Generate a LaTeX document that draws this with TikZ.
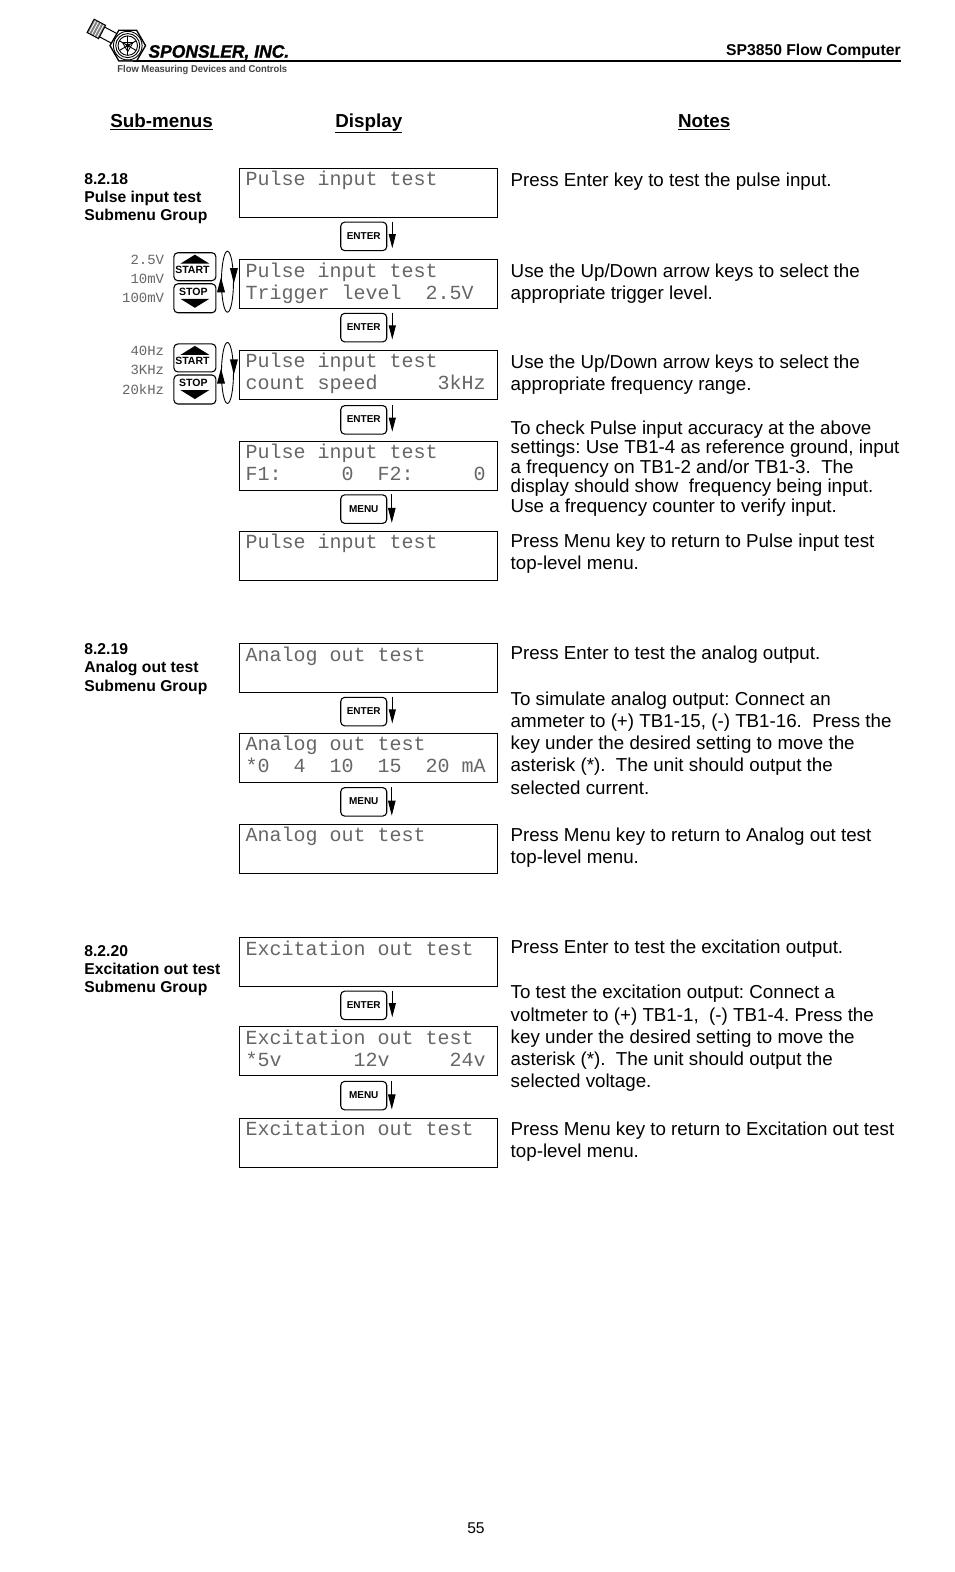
\documentclass[tikz,border=0pt]{standalone}
\usepackage{fontspec}
\setmainfont{Liberation Sans}
\newfontfamily\lcdfont{Liberation Mono}
\newfontfamily\brandfont{Liberation Sans}[FakeBold=1.2,FakeStretch=0.97]
\newfontfamily\tagfont{Liberation Sans}[FakeStretch=0.94]
\usetikzlibrary{arrows.meta,shapes.geometric,calc}
\definecolor{lcdgray}{HTML}{666666}
\definecolor{lgray}{HTML}{444444}
\tikzset{
 x=1.002pt,y=-1.0026pt,
 lcdbox/.style={draw=black,line width=0.9pt,minimum width=258pt,minimum height=49pt,inner sep=0pt,anchor=north west},
 lcdtext/.style={anchor=base west,inner sep=0pt,text=lcdgray,font=\lcdfont\fontsize{20}{20}\selectfont},
 sidetext/.style={anchor=base east,inner sep=0pt,text=lcdgray,font=\lcdfont\fontsize{14}{14}\selectfont},
 keybox/.style={draw=black,line width=1.1pt,rounded corners=4pt,minimum width=46pt,minimum height=28.5pt,inner sep=0pt,font=\bfseries\fontsize{10}{10}\selectfont,anchor=north west},
 updown/.style={draw=black,line width=1.1pt,rounded corners=4pt,minimum width=42pt,minimum height=28pt,inner sep=0pt,anchor=north west},
 keylabel/.style={inner sep=0pt,font=\bfseries\fontsize{10.5}{10.5}\selectfont},
 notetext/.style={anchor=north west,inner sep=0pt,align=left,font=\frenchspacing\fontsize{18.75}{22.1}\selectfont},
 tightnote/.style={anchor=north west,inner sep=0pt,align=left,font=\frenchspacing\fontsize{18.75}{19.5}\selectfont},
 grouptext/.style={anchor=north west,inner sep=0pt,align=left,font=\bfseries\fontsize{15.7}{18.4}\selectfont},
 headtext/.style={anchor=base west,inner sep=0pt,font=\bfseries\fontsize{18.8}{22}\selectfont},
 keyarrow/.style={line width=0.9pt,-{Triangle[width=7pt,length=14pt]}},
 menuarrow/.style={line width=0.9pt,-{Triangle[width=7.5pt,length=15pt]}},
}
\newcommand{\lcd}[4]{%name, top, l1, l2
 \node[lcdbox] (#1) at (239,#2-0.3) {};
 \node[lcdtext] (#1a) at (245,#2+17.5) {#3};
 \node[lcdtext] (#1b) at (245,#2+39.7) {#4};
}
\newcommand{\keybtn}[3]{%name, top, label
 \node[keybox] (#1) at (339.5,#2-1) {\raisebox{1pt}{#3}};
 \draw[keyarrow] ([xshift=5pt]#1.north east) -- ([xshift=5pt,yshift=3pt]#1.south east);
}
\newcommand{\menubtn}[2]{%name, top
 \node[keybox] (#1) at (339.5,#2-1) {\raisebox{1pt}{MENU}};
 \draw[menuarrow] ([xshift=4.5pt]#1.north east) -- ([xshift=4.5pt,yshift=1pt]#1.south east);
}
\newcommand{\updownpair}[5]{%name, dy, l1,l2,l3
 \node[updown,minimum height=28pt] (#1u) at (173,251.5+#2) {};
 \node[updown,minimum height=29pt] (#1d) at (173,282.5+#2) {};
 \fill (180,263+#2) -- (194.5,254+#2) -- (209,263+#2) -- cycle;
 \fill (180,298+#2) -- (194.5,307+#2) -- (209,298+#2) -- cycle;
 \node[keylabel] (#1ul) at (192,269+#2) {START};
 \node[keylabel] (#1dl) at (193,291+#2) {STOP};
 \node[draw=black,line width=0.9pt,ellipse,minimum width=12pt,minimum height=61pt,inner sep=0pt] (#1e) at (227,281+#2) {};
 \fill ($(#1e.west)+(0,-4.5)$) -- ++(-4,15) -- ++(8,0) -- cycle;
 \fill ($(#1e.east)+(0,1.5)$) -- ++(-4,-15) -- ++(8,0) -- cycle;
 \node[sidetext] (#1s1) at (164,264+#2) {#3};
 \node[sidetext] (#1s2) at (164,283+#2) {#4};
 \node[sidetext] (#1s3) at (164,302+#2) {#5};
}
\begin{document}
\begin{tikzpicture}
\useasboundingbox (0,0) rectangle (952.096,1567.9);
\fill[white] (0,0) rectangle (952.096,1567.9);
% header
\draw[line width=1.8pt] (133,61) -- (899,61);
\node[anchor=base east,inner sep=0pt,font=\bfseries\fontsize{15.7}{16}\selectfont] (hdr) at (899,55) {SP3850 Flow Computer};
\node[anchor=base west,inner sep=0pt,font=\brandfont\bfseries\itshape\fontsize{18}{18}\selectfont] (brand) at (148,57.5) {SPONSLER, INC.};
\node[anchor=base west,inner sep=0pt,text=lgray,font=\tagfont\bfseries\fontsize{10}{10}\selectfont] (tag) at (117,72) {Flow Measuring Devices and Controls};
% logo
\begin{scope}[shift={(127.5,45.5)}]
 \begin{scope}[rotate=-28]
  \draw[line width=1pt,fill=white] (-30,-5.5) rectangle (-15,5.5);
  \fill[gray] (-42,-7.5) rectangle (-29,7.5);
  \foreach \t in {-40,-37,-34,-31} \draw[white,line width=0.8pt] (\t,-7.5) -- (\t,7.5);
  \draw[line width=1pt] (-42,-7.5) rectangle (-29,7.5);
 \end{scope}
 \fill[black] (0:18.5) -- (60:18.5) -- (120:18.5) -- (180:18.5) -- (240:18.5) -- (300:18.5) -- cycle;
 \fill[white] (0:16.8) -- (60:16.8) -- (120:16.8) -- (180:16.8) -- (240:16.8) -- (300:16.8) -- cycle;
 \draw[line width=0.9pt] (0,0) circle (14.3);
 \draw[line width=0.9pt] (0,0) circle (12);
 \draw[line width=0.9pt] (0,0) circle (9.7);
 \foreach \a in {30,90,150,210,270,330} \draw[line width=0.9pt] (0,0) -- (\a:9.7);
 \draw[line width=0.8pt] (90:6) -- (210:6) -- (330:6) -- cycle;
 \fill (0,0) circle (2);
\end{scope}
% column heads
\node[headtext] (h1) at (110,127) {\underline{Sub-menus}};
\node[headtext] (h2) at (334.5,127) {\underline{Display}};
\node[headtext] (h3) at (676.5,127) {\underline{Notes}};
% group labels
\node[grouptext] (g1) at (84,172.5) {8.2.18\\Pulse input test\\Submenu Group};
\node[grouptext] (g2) at (84,641.5) {8.2.19\\Analog out test\\Submenu Group};
\node[grouptext] (g3) at (84,942.5) {8.2.20\\Excitation out test\\Submenu Group};
% group 1
\lcd{p1}{168}{Pulse~input~test}{}
\keybtn{k1}{222}{ENTER}
\lcd{p2}{259}{Pulse~input~test}{Trigger~level~~2.5V}
\keybtn{k2}{313}{ENTER}
\lcd{p3}{349}{Pulse~input~test}{count~speed~~~~~3kHz}
\keybtn{k3}{405}{ENTER}
\lcd{p4}{440}{Pulse~input~test}{F1:~~~~~0~~F2:~~~~~0}
\menubtn{k4}{494}
\lcd{p5}{530}{Pulse~input~test}{}
\updownpair{ua}{0}{2.5V}{10mV}{100mV}
\updownpair{ub}{91}{40Hz}{3KHz}{20kHz}
% group 2
\lcd{a1}{642}{Analog~out~test}{}
\keybtn{k5}{696}{ENTER}
\lcd{a2}{731}{Analog~out~test}{*0~~4~~10~~15~~20~mA}
\menubtn{k6}{786}
\lcd{a3}{822}{Analog~out~test}{}
% group 3
\lcd{e1}{935}{Excitation~out~test}{}
\keybtn{k7}{989}{ENTER}
\lcd{e2}{1024}{Excitation~out~test}{*5v~~~~~~12v~~~~~24v}
\menubtn{k8}{1079}
\lcd{e3}{1115}{Excitation~out~test}{}
% notes
\node[notetext] (n1) at (509.5,172.5) {Press Enter key to test the pulse input.};
\node[notetext] (n2) at (509.5,262.8) {Use the Up/Down arrow keys to select the\\appropriate trigger level.};
\node[notetext] (n3) at (509.5,353.7) {Use the Up/Down arrow keys to select the\\appropriate frequency range.};
\node[tightnote] (n4) at (509.5,419.2) {To check Pulse input accuracy at the above\\settings: Use TB1-4 as reference ground, input\\a frequency on TB1-2 and/or TB1-3.~ The\\display should show~ frequency being input.\\Use a frequency counter to verify input.};
\node[notetext] (n5) at (509.5,532.3) {Press Menu key to return to Pulse input test\\top-level menu.};
\node[notetext] (n6) at (509.5,644) {Press Enter to test the analog output.};
\node[notetext] (n7) at (509.5,690) {To simulate analog output: Connect an\\ammeter to (+) TB1-15, (-) TB1-16.~ Press the\\key under the desired setting to move the\\asterisk (*).~ The unit should output the\\selected current.};
\node[notetext] (n8) at (509.5,825.3) {Press Menu key to return to Analog out test\\top-level menu.};
\node[notetext] (n9) at (509.5,937.6) {Press Enter to test the excitation output.};
\node[notetext] (n10) at (509.5,982.6) {To test the excitation output: Connect a\\voltmeter to (+) TB1-1,~ (-) TB1-4. Press the\\key under the desired setting to move the\\asterisk (*).~ The unit should output the\\selected voltage.};
\node[notetext] (n11) at (509.5,1118.6) {Press Menu key to return to Excitation out test\\top-level menu.};
\node[inner sep=0pt,font=\fontsize{15.6}{16}\selectfont] (pg) at (475,1524) {55};
\end{tikzpicture}
\end{document}
